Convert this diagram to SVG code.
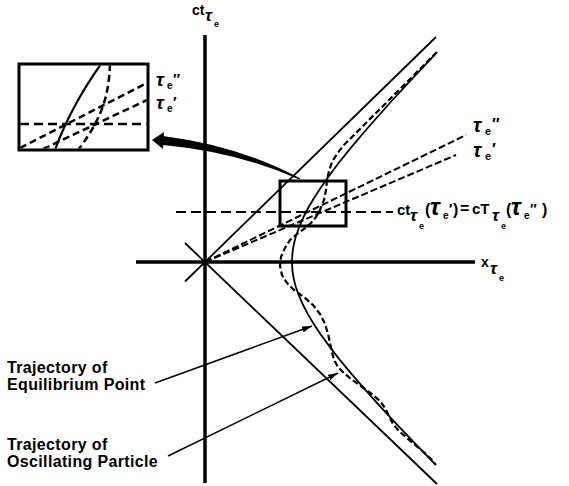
<svg xmlns="http://www.w3.org/2000/svg" width="569" height="486" viewBox="0 0 569 486">
<style>
.ln{fill:none;stroke:#000;stroke-linecap:butt;stroke-linejoin:round}
.ax{stroke-width:3.5}
.th{stroke-width:1.8}
.dh{stroke-dasharray:10 5;stroke-width:2}
.dt{stroke-dasharray:7 3;stroke-width:2}
.dc{stroke-dasharray:6 3;stroke-width:2.2}
.bx{fill:#fff;fill-opacity:0;stroke:#000;stroke-width:3}
text{font-family:"Liberation Sans","DejaVu Sans",Arial,sans-serif;font-weight:bold;fill:#000}
.g{font-style:italic}
.lab{font-size:16px;letter-spacing:0.35px}
</style>
<defs>
<marker id="ah" markerUnits="userSpaceOnUse" markerWidth="10" markerHeight="6" refX="10" refY="3" orient="auto">
<path d="M0,0 L10,3 L0,6 z" fill="#000"/>
</marker>
<clipPath id="ic"><rect x="20.5" y="65.5" width="126" height="83"/></clipPath>
</defs>

<g id="axes">
<line class="ln ax" x1="205" y1="35" x2="205" y2="483"/>
<line class="ln ax" x1="136" y1="262" x2="475" y2="262"/>
<line class="ln th" x1="185" y1="281.5" x2="436" y2="37"/>
<line class="ln th" x1="185" y1="243" x2="437" y2="484"/>
<text x="192" y="15" font-size="14">ct<tspan class="g" x="205" y="21" font-size="17">τ</tspan><tspan x="214" y="27" font-size="9">e</tspan></text>
<text x="481" y="267" font-size="14">x<tspan class="g" x="490" y="274" font-size="17">τ</tspan><tspan x="499" y="281" font-size="9">e</tspan></text>
</g>

<g id="proper-time-lines">
<line class="ln dt" x1="205" y1="262" x2="466" y2="135"/>
<line class="ln dt" x1="205" y1="262" x2="456" y2="155"/>
<line class="ln dh" x1="176" y1="212" x2="393" y2="212"/>
<text x="473" y="132" font-size="20" class="g">τ<tspan x="485" y="135" font-size="11" font-style="normal">e</tspan><tspan x="492" y="130" font-size="16" font-style="normal">″</tspan></text>
<text x="473" y="157" font-size="20" class="g">τ<tspan x="485" y="160" font-size="11" font-style="normal">e</tspan><tspan x="492" y="155" font-size="16" font-style="normal">′</tspan></text>
</g>

<g id="equilibrium-trajectory">
<path class="ln th" d="M435.5,53.9 L429.2,60.6 L409.7,81.4 L392.1,100.5 L376.5,118 L362.5,134 L350.2,148.7 L339.2,162.3 L329.7,175 L321.4,186.7 L314.2,197.7 L308.1,208 L303.1,217.8 L299.1,227.2 L295.9,236.2 L293.7,244.9 L292.4,253.5 L292,262 L292.4,270.3 L293.7,278.6 L295.9,287.2 L299.1,295.9 L303.1,305 L308.1,314.6 L314.2,324.7 L321.4,335.4 L329.7,346.8 L339.2,359.1 L350.2,372.3 L362.5,386.7 L376.5,402.3 L392.1,419.3 L409.7,437.9 L429.2,458.2 L435.5,464.7"/>
</g>

<g id="particle-trajectory">
<path class="ln dc" d="M437,52 L431,58 L423,66 L414,75 L405,84 L396,93 L387,102 L378,111 L369,120 L360,129 L351,138 L343,146 L337,154 L332,162 L329,171 L327,180 L326,190 L324,200 L320,210 L316,217 L311,223 L304,229 L297,234 L290,240 L285,248 L281,257 L280,266 L282,275 L287,283 L294,290 L304,297 L313,305 L320,314 L325,324 L328,334 L330,343 L332,352 L334,360 L338,367 L344,373 L351,379 L358,384 L365,389 L373,395 L380,401 L385,408 L389,416 L393,424 L399,431 L407,438 L414,444 L420,449 L426,454 L431,459 L436,465"/>
</g>

<g id="detail-box">
<rect class="bx" x="280" y="181" width="66" height="45"/>
</g>

<g id="equality-label">
<text y="215" font-size="15"><tspan x="397">ct</tspan><tspan class="g" x="410" y="221" font-size="17">τ</tspan><tspan x="419" y="229" font-size="9">e</tspan><tspan x="425" y="215" font-size="16">(</tspan><tspan class="g" x="430" y="215" font-size="24">τ</tspan><tspan x="443" y="219" font-size="10">e</tspan><tspan x="449" y="214" font-size="14">′</tspan><tspan x="453" y="215" font-size="16">)</tspan><tspan x="460" y="214" font-size="16">=</tspan><tspan x="472" y="214">cT</tspan><tspan class="g" x="492" y="221" font-size="17">τ</tspan><tspan x="501" y="229" font-size="9">e</tspan><tspan x="506" y="215" font-size="16">(</tspan><tspan class="g" x="511" y="215" font-size="24">τ</tspan><tspan x="524" y="219" font-size="10">e</tspan><tspan x="530" y="214" font-size="14">″</tspan><tspan x="542" y="215" font-size="16">)</tspan></text>
</g>

<g id="inset">
<g clip-path="url(#ic)">
<line class="ln" stroke-width="2.5" stroke-dasharray="9 5" x1="20" y1="124" x2="147" y2="124"/>
<line class="ln" stroke-width="2.5" stroke-dasharray="7 4" x1="20" y1="148" x2="147" y2="83"/>
<line class="ln" stroke-width="2.5" stroke-dasharray="7 4" x1="43" y1="149" x2="147" y2="100"/>
<path class="ln" stroke-width="2.2" d="M101,64 Q 70,108 55,150"/>
<path class="ln" stroke-width="2.5" stroke-dasharray="7 4" d="M110,64 C 109,90 105,115 78,150"/>
</g>
<rect class="bx" x="19" y="64" width="129" height="86"/>
<text x="156" y="86" font-size="19" class="g">τ<tspan x="167" y="89" font-size="10" font-style="normal">e</tspan><tspan x="173" y="84" font-size="15" font-style="normal">″</tspan></text>
<text x="156" y="109" font-size="19" class="g">τ<tspan x="167" y="112" font-size="10" font-style="normal">e</tspan><tspan x="173" y="107" font-size="15" font-style="normal">′</tspan></text>
</g>

<g id="connectors">
<path d="M300,178.3 Q 240,146 163,136 L163,145 Q 238,152 300,179.7 Z" fill="#000"/>
<polygon points="152,140 164,132 163,149" fill="#000"/>
<line class="ln" stroke-width="1.5" x1="155" y1="383" x2="312" y2="326" marker-end="url(#ah)"/>
<line class="ln" stroke-width="1.5" x1="168" y1="456" x2="338" y2="373" marker-end="url(#ah)"/>
</g>

<g id="trajectory-labels">
<text class="lab" x="7" y="373">Trajectory of</text>
<text class="lab" x="7" y="390">Equilibrium Point</text>
<text class="lab" x="7" y="450">Trajectory of</text>
<text class="lab" x="7" y="467">Oscillating Particle</text>
</g>
</svg>
